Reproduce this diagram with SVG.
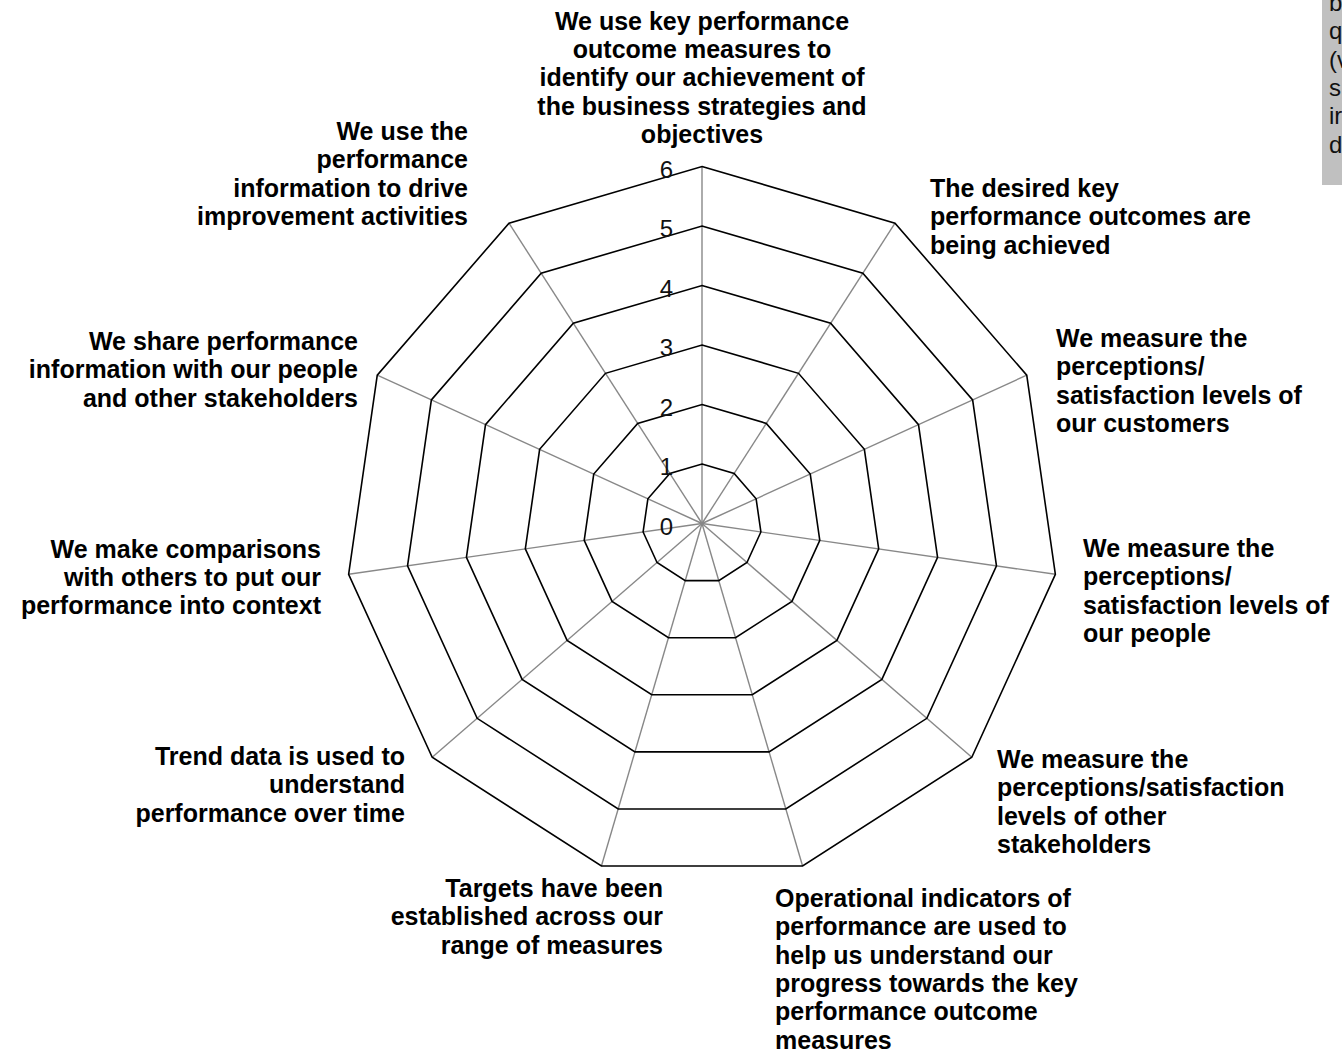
<svg xmlns="http://www.w3.org/2000/svg" width="1342" height="1055" viewBox="0 0 1342 1055">
<style>
.axis{stroke:#888888;stroke-width:1.4;fill:none}
.ring{stroke:#000000;stroke-width:1.6;fill:none;stroke-linejoin:miter}
.lbl{font-family:"Liberation Sans",Arial,sans-serif;font-weight:bold;font-size:25px;fill:#000}
.tick{font-family:"Liberation Sans",Arial,sans-serif;font-size:24px;fill:#111;text-anchor:end}
.note{font-family:"Liberation Sans",Arial,sans-serif;font-size:24px;fill:#111}
.s{text-anchor:start}.m{text-anchor:middle}.e{text-anchor:end}
</style>
<rect width="1342" height="1055" fill="#ffffff"/>
<g id="axes">
<line class="axis" x1="702" y1="523.5" x2="702" y2="166.5"/>
<line class="axis" x1="702" y1="523.5" x2="895.01" y2="223.17"/>
<line class="axis" x1="702" y1="523.5" x2="1026.74" y2="375.2"/>
<line class="axis" x1="702" y1="523.5" x2="1055.37" y2="574.31"/>
<line class="axis" x1="702" y1="523.5" x2="971.8" y2="757.29"/>
<line class="axis" x1="702" y1="523.5" x2="802.58" y2="866.04"/>
<line class="axis" x1="702" y1="523.5" x2="601.42" y2="866.04"/>
<line class="axis" x1="702" y1="523.5" x2="432.2" y2="757.29"/>
<line class="axis" x1="702" y1="523.5" x2="348.63" y2="574.31"/>
<line class="axis" x1="702" y1="523.5" x2="377.26" y2="375.2"/>
<line class="axis" x1="702" y1="523.5" x2="508.99" y2="223.17"/>
</g>
<g id="rings">
<polygon class="ring" points="702,464 734.17,473.45 756.12,498.78 760.89,531.97 746.97,562.46 718.76,580.59 685.24,580.59 657.03,562.46 643.11,531.97 647.88,498.78 669.83,473.45"/>
<polygon class="ring" points="702,404.5 766.34,423.39 810.25,474.07 819.79,540.44 791.93,601.43 735.53,637.68 668.47,637.68 612.07,601.43 584.21,540.44 593.75,474.07 637.66,423.39"/>
<polygon class="ring" points="702,345 798.5,373.34 864.37,449.35 878.68,548.9 836.9,640.39 752.29,694.77 651.71,694.77 567.1,640.39 525.32,548.9 539.63,449.35 605.5,373.34"/>
<polygon class="ring" points="702,285.5 830.67,323.28 918.49,424.63 937.58,557.37 881.87,679.36 769.05,751.86 634.95,751.86 522.13,679.36 466.42,557.37 485.51,424.63 573.33,323.28"/>
<polygon class="ring" points="702,226 862.84,273.23 972.62,399.91 996.47,565.84 926.84,718.32 785.82,808.95 618.18,808.95 477.16,718.32 407.53,565.84 431.38,399.91 541.16,273.23"/>
<polygon class="ring" points="702,166.5 895.01,223.17 1026.74,375.2 1055.37,574.31 971.8,757.29 802.58,866.04 601.42,866.04 432.2,757.29 348.63,574.31 377.26,375.2 508.99,223.17"/>
</g>
<g id="ticks">
<text class="tick" x="673" y="535">0</text>
<text class="tick" x="673" y="475">1</text>
<text class="tick" x="673" y="415.5">2</text>
<text class="tick" x="673" y="356">3</text>
<text class="tick" x="673" y="296.5">4</text>
<text class="tick" x="673" y="237">5</text>
<text class="tick" x="673" y="177.5">6</text>
</g>
<g id="label-1">
<text class="lbl m" x="702" y="30">We use key performance</text>
<text class="lbl m" x="702" y="58.2">outcome measures to</text>
<text class="lbl m" x="702" y="86.4">identify our achievement of</text>
<text class="lbl m" x="702" y="114.6">the business strategies and</text>
<text class="lbl m" x="702" y="143">objectives</text>
</g>
<g id="label-2">
<text class="lbl s" x="930" y="197">The desired key</text>
<text class="lbl s" x="930" y="225.3">performance outcomes are</text>
<text class="lbl s" x="930" y="253.6">being achieved</text>
</g>
<g id="label-3">
<text class="lbl s" x="1056" y="347">We measure the</text>
<text class="lbl s" x="1056" y="375.3">perceptions/</text>
<text class="lbl s" x="1056" y="403.6">satisfaction levels of</text>
<text class="lbl s" x="1056" y="431.9">our customers</text>
</g>
<g id="label-4">
<text class="lbl s" x="1083" y="557">We measure the</text>
<text class="lbl s" x="1083" y="585.3">perceptions/</text>
<text class="lbl s" x="1083" y="613.6">satisfaction levels of</text>
<text class="lbl s" x="1083" y="641.9">our people</text>
</g>
<g id="label-5">
<text class="lbl s" x="997" y="768">We measure the</text>
<text class="lbl s" x="997" y="796.3">perceptions/satisfaction</text>
<text class="lbl s" x="997" y="824.6">levels of other</text>
<text class="lbl s" x="997" y="852.9">stakeholders</text>
</g>
<g id="label-6">
<text class="lbl s" x="775" y="907">Operational indicators of</text>
<text class="lbl s" x="775" y="935.3">performance are used to</text>
<text class="lbl s" x="775" y="963.6">help us understand our</text>
<text class="lbl s" x="775" y="991.9">progress towards the key</text>
<text class="lbl s" x="775" y="1020.2">performance outcome</text>
<text class="lbl s" x="775" y="1048.5">measures</text>
</g>
<g id="label-7">
<text class="lbl e" x="663" y="897">Targets have been</text>
<text class="lbl e" x="663" y="925.3">established across our</text>
<text class="lbl e" x="663" y="953.6">range of measures</text>
</g>
<g id="label-8">
<text class="lbl e" x="405" y="765">Trend data is used to</text>
<text class="lbl e" x="405" y="793.3">understand</text>
<text class="lbl e" x="405" y="821.6">performance over time</text>
</g>
<g id="label-9">
<text class="lbl e" x="321" y="557.5">We make comparisons</text>
<text class="lbl e" x="321" y="585.8">with others to put our</text>
<text class="lbl e" x="321" y="614.1">performance into context</text>
</g>
<g id="label-10">
<text class="lbl e" x="358" y="350">We share performance</text>
<text class="lbl e" x="358" y="378.3">information with our people</text>
<text class="lbl e" x="358" y="406.6">and other stakeholders</text>
</g>
<g id="label-11">
<text class="lbl e" x="468" y="140">We use the</text>
<text class="lbl e" x="468" y="168.3">performance</text>
<text class="lbl e" x="468" y="196.6">information to drive</text>
<text class="lbl e" x="468" y="224.9">improvement activities</text>
</g>
<g id="note">
<rect x="1322" y="0" width="20" height="185" fill="#c0c0c0"/>
<text class="note" x="1329" y="11">b</text>
<text class="note" x="1329" y="39.3">q</text>
<text class="note" x="1329" y="67.6">(v</text>
<text class="note" x="1329" y="95.9">s</text>
<text class="note" x="1329" y="124.2">ir</text>
<text class="note" x="1329" y="152.5">d</text>
</g>
</svg>
